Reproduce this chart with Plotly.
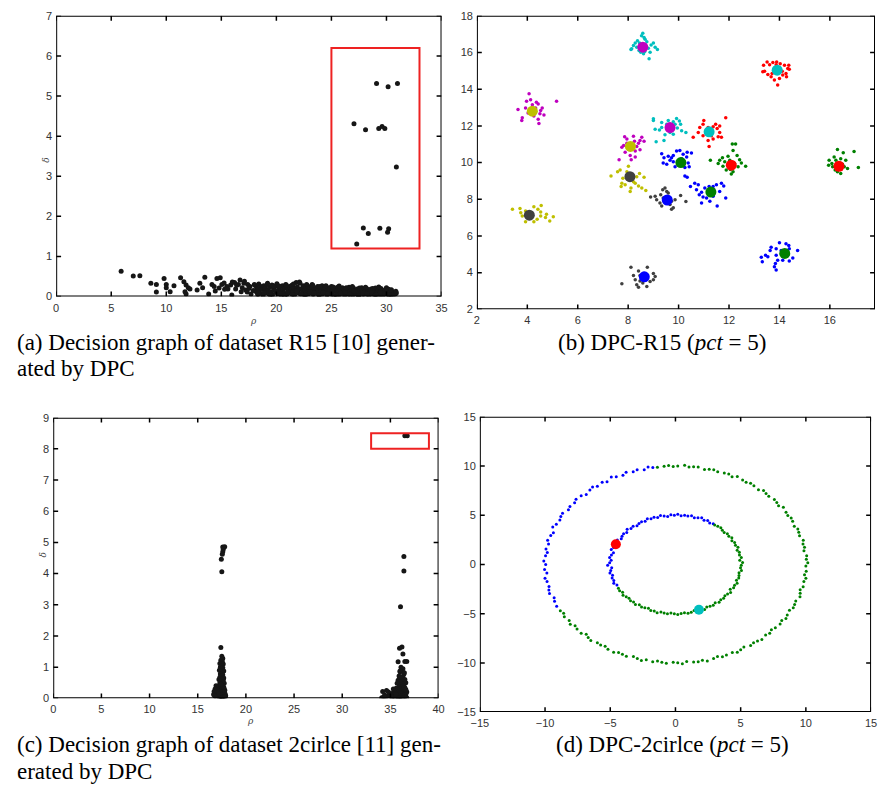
import numpy as np
import plotly.graph_objects as go

W, H = 881, 791

# ---------------- (a) decision graph of R15 ----------------
rho_a_peaks = [29.1, 30.15, 31.0, 27.05, 28.1, 29.3, 29.6, 29.85, 30.9, 27.9, 28.35, 29.4, 30.2, 30.1, 27.3]
delta_a_peaks = [5.31, 5.23, 5.31, 4.31, 4.16, 4.19, 4.24, 4.19, 3.23, 1.71, 1.57, 1.70, 1.69, 1.60, 1.31]

rho_a_sparse = [5.9, 7.0, 7.6, 8.6, 9.1, 9.1, 9.8, 10.0, 10.0, 10.35,
                10.7, 11.3, 11.6, 11.8, 12.0, 12.15, 11.7, 11.8, 12.8, 13.05,
                13.3, 13.5, 13.85, 14.15, 14.35, 14.45, 14.6, 14.9, 15.05, 15.25,
                15.5, 15.6, 15.85, 15.95, 16.2, 16.3, 16.55, 16.7, 16.9, 17.05,
                17.2, 17.35, 17.6, 17.7, 18.0, 18.3, 16.0, 16.4, 17.1, 17.5,
                17.9, 15.3, 14.8, 16.8, 17.4]
delta_a_sparse = [0.63, 0.51, 0.52, 0.33, 0.30, 0.11, 0.45, 0.30, 0.22, 0.12,
                  0.27, 0.47, 0.37, 0.29, 0.22, 0.19, 0.12, 0.06, 0.16, 0.33,
                  0.22, 0.48, 0.06, 0.30, 0.25, 0.14, 0.45, 0.47, 0.30, 0.34,
                  0.25, 0.19, 0.29, 0.04, 0.35, 0.19, 0.30, 0.41, 0.22, 0.33,
                  0.16, 0.11, 0.25, 0.06, 0.30, 0.20, 0.36, 0.28, 0.38, 0.2,
                  0.15, 0.18, 0.21, 0.12, 0.3]

rho_a_band = [18.05, 18.15, 18.2, 18.3, 18.4, 18.45, 18.55, 18.6, 18.7, 18.8, 18.85, 18.95, 19.0, 19.1, 19.2, 19.25, 19.35, 19.4, 19.5, 19.6,
              19.65, 19.75, 19.8, 19.9, 20.0, 20.05, 20.15, 20.2, 20.3, 20.4, 20.45, 20.55, 20.6, 20.7, 20.8, 20.85, 20.95, 21.0, 21.1, 21.2,
              21.25, 21.35, 21.4, 21.5, 21.6, 21.65, 21.75, 21.8, 21.9, 22.0, 22.05, 22.15, 22.2, 22.3, 22.4, 22.45, 22.55, 22.6, 22.7, 22.8,
              22.85, 22.95, 23.0, 23.1, 23.2, 23.25, 23.35, 23.4, 23.5, 23.6, 23.65, 23.75, 23.8, 23.9, 24.0, 24.05, 24.15, 24.2, 24.3, 24.4,
              24.45, 24.55, 24.6, 24.7, 24.8, 24.85, 24.95, 25.0, 25.1, 25.2, 25.25, 25.35, 25.4, 25.5, 25.6, 25.65, 25.75, 25.8, 25.9, 26.0,
              26.05, 26.15, 26.2, 26.3, 26.4, 26.45, 26.55, 26.6, 26.7, 26.8, 26.85, 26.95, 27.0, 27.1, 27.2, 27.25, 27.35, 27.4, 27.5, 27.6,
              27.65, 27.75, 27.8, 27.9, 28.0, 28.05, 28.15, 28.2, 28.3, 28.4, 28.45, 28.55, 28.6, 28.7, 28.8, 28.85, 28.95, 29.0, 29.1, 29.2,
              29.25, 29.35, 29.4, 29.5, 29.6, 29.65, 29.75, 29.8, 29.9, 30.0, 30.05, 30.15, 30.2, 30.3, 30.4, 30.5, 30.6, 30.7, 30.8, 30.9]
delta_a_band = [0.28, 0.12, 0.22, 0.05, 0.31, 0.16, 0.08, 0.25, 0.19, 0.03, 0.27, 0.14, 0.21, 0.09, 0.33, 0.17, 0.06, 0.24, 0.12, 0.29,
                0.04, 0.2, 0.15, 0.26, 0.1, 0.32, 0.07, 0.18, 0.23, 0.13, 0.02, 0.27, 0.16, 0.09, 0.22, 0.3, 0.05, 0.19, 0.12, 0.25,
                0.08, 0.17, 0.28, 0.11, 0.21, 0.04, 0.15, 0.35, 0.24, 0.09, 0.18, 0.33, 0.06, 0.2, 0.13, 0.27, 0.03, 0.16, 0.22, 0.1,
                0.26, 0.07, 0.19, 0.14, 0.24, 0.3, 0.05, 0.17, 0.11, 0.21, 0.08, 0.25, 0.15, 0.03, 0.2, 0.12, 0.27, 0.06, 0.18, 0.23,
                0.1, 0.16, 0.04, 0.22, 0.13, 0.19, 0.07, 0.25, 0.11, 0.17, 0.02, 0.21, 0.14, 0.08, 0.24, 0.16, 0.05, 0.19, 0.12, 0.22,
                0.09, 0.15, 0.03, 0.2, 0.11, 0.17, 0.06, 0.23, 0.13, 0.08, 0.18, 0.04, 0.21, 0.1, 0.15, 0.07, 0.19, 0.12, 0.02, 0.17,
                0.09, 0.22, 0.14, 0.05, 0.18, 0.11, 0.07, 0.2, 0.13, 0.03, 0.16, 0.09, 0.19, 0.06, 0.12, 0.15, 0.04, 0.21, 0.1, 0.08,
                0.17, 0.05, 0.13, 0.2, 0.09, 0.03, 0.15, 0.11, 0.07, 0.22, 0.14, 0.06, 0.18, 0.1, 0.04, 0.12, 0.08, 0.1, 0.06, 0.09]

rho_a_low = [18.35, 18.9, 19.45, 19.95, 20.35, 20.75, 21.05, 21.45, 21.85, 22.25, 22.65, 23.05, 23.45, 23.85, 24.25, 24.65,
             25.05, 25.45, 25.85, 26.25, 26.65, 27.05, 27.45, 27.85, 28.25, 28.65, 29.05, 29.45, 29.85, 30.25, 30.65,
             19.15, 19.7, 20.25, 20.9, 21.55, 22.1, 22.75, 23.3, 23.95, 24.5, 25.15, 25.7, 26.35, 26.9, 27.55, 28.1,
             28.75, 29.3, 29.95, 30.45, 30.85]
delta_a_low = [0.06, 0.1, 0.04, 0.13, 0.08, 0.02, 0.11, 0.05, 0.14, 0.07, 0.03, 0.12, 0.09, 0.04, 0.1, 0.06,
               0.13, 0.03, 0.08, 0.11, 0.05, 0.14, 0.02, 0.09, 0.06, 0.12, 0.04, 0.1, 0.07, 0.03, 0.05,
               0.3, 0.27, 0.26, 0.29, 0.31, 0.36, 0.3, 0.28, 0.25, 0.27, 0.24, 0.26, 0.22, 0.25, 0.21, 0.23,
               0.2, 0.24, 0.19, 0.17, 0.13]

# ---------------- (b) DPC clustering of R15 ----------------
cyan_x = [8.58, 8.53, 8.63, 8.37, 8.28, 8.14, 8.11, 8.34, 8.43, 8.50, 8.61, 8.66, 8.80, 8.91, 9.00, 9.16, 8.83, 8.67, 8.74, 8.87, 8.45, 8.21, 9.07,
          9.00, 9.00, 9.33, 9.59, 9.79, 9.92, 10.03, 10.08, 10.29, 10.12, 9.79, 9.66, 9.46, 9.42, 9.11, 9.24, 9.07, 9.33, 9.95, 9.86, 9.53]
cyan_y = [17.05, 16.91, 16.82, 16.64, 16.52, 16.20, 16.16, 16.29, 16.11, 16.02, 15.93, 16.05, 16.23, 16.41, 16.52, 16.16, 15.66, 16.73, 16.59, 16.02, 16.52, 16.38, 16.29,
          12.39, 12.30, 12.18, 12.30, 12.23, 12.41, 12.27, 12.09, 11.64, 11.73, 11.55, 11.64, 11.52, 11.20, 11.14, 11.77, 11.82, 11.91, 11.88, 12.09, 12.09]

red_x = [13.51, 13.37, 13.41, 13.34, 13.61, 13.74, 13.87, 14.03, 14.20, 14.33, 14.39, 14.26, 14.13, 14.00, 13.93, 13.80, 13.67, 13.71, 13.54, 14.28, 14.11, 13.89, 14.37,
         11.00, 10.97, 11.17, 11.37, 11.53, 11.63, 11.70, 11.57, 11.37, 11.21, 11.17, 10.97, 10.78, 10.58, 10.84, 11.87, 11.47, 11.63, 11.30]
red_y = [15.48, 15.30, 14.98, 14.95, 15.34, 15.45, 15.34, 15.39, 15.30, 15.13, 15.09, 14.86, 14.77, 14.59, 14.23, 14.50, 14.68, 14.86, 14.80, 14.68, 14.98, 15.48, 15.30,
         12.30, 12.09, 11.91, 11.95, 11.86, 11.64, 11.38, 11.41, 11.29, 10.88, 11.20, 11.46, 11.64, 11.38, 11.91, 12.45, 12.09, 12.00, 11.46]

magenta_x = [4.07, 4.13, 3.97, 4.36, 4.43, 4.59, 4.53, 3.63, 3.80, 3.78, 4.03, 4.26, 4.43, 4.46, 4.66, 5.16, 3.93, 4.33, 4.20, 4.50,
             7.86, 8.21, 7.95, 8.25, 8.47, 8.63, 8.54, 7.82, 7.75, 8.34, 8.47, 8.28, 8.08, 8.28, 8.12, 7.64, 7.88, 8.41, 7.95]
magenta_y = [13.75, 13.43, 13.34, 13.29, 13.20, 12.98, 12.84, 12.89, 12.45, 12.30, 12.71, 12.54, 12.36, 12.13, 12.59, 13.34, 12.98, 12.98, 13.16, 12.66,
             11.41, 11.43, 11.29, 11.16, 11.20, 11.16, 11.38, 10.93, 10.84, 10.88, 10.70, 10.63, 10.39, 10.30, 10.16, 10.16, 10.57, 11.05, 11.05]

blue_x = [9.33, 9.42, 9.59, 9.79, 9.92, 10.05, 10.18, 10.34, 10.51, 10.32, 10.38, 10.42, 10.25, 9.99, 9.79, 9.66, 9.53, 9.39, 9.86, 10.25, 10.34, 9.72, 10.12,
          10.47, 10.64, 10.78, 10.71, 10.82, 10.91, 10.97, 10.91, 11.11, 11.24, 11.37, 11.39, 11.50, 11.70, 11.79, 11.63, 11.87, 11.53, 11.37, 11.21, 11.04,
          14.00, 14.26, 14.37, 13.67, 13.63, 13.87, 14.07, 14.39, 14.72, 13.45, 13.28, 13.54, 13.87, 13.93, 14.33, 14.53, 14.39, 14.13, 13.32, 13.84, 13.87, 13.80]
blue_y = [10.48, 10.27, 10.34, 10.39, 10.63, 10.66, 10.45, 10.57, 10.52, 10.30, 9.98, 9.77, 9.73, 9.95, 10.04, 10.13, 9.91, 9.98, 9.77, 9.27, 9.20, 10.27, 10.21,
          8.70, 8.88, 8.79, 8.52, 8.25, 8.38, 8.13, 7.80, 8.07, 7.89, 8.16, 8.52, 8.79, 8.88, 8.73, 8.43, 8.07, 7.63, 8.70, 8.70, 8.61,
          5.63, 5.57, 5.48, 5.39, 5.21, 5.30, 5.21, 5.30, 5.21, 4.95, 4.84, 4.86, 4.95, 4.68, 4.95, 4.80, 4.63, 4.68, 4.59, 4.50, 4.14, 4.32]

green_x = [12.13, 12.26, 12.16, 11.96, 11.74, 11.63, 11.26, 11.57, 11.76, 11.89, 12.09, 12.16, 12.36, 12.42, 12.49, 12.66, 12.32, 12.03, 11.83, 12.22, 12.05,
           16.30, 16.53, 16.96, 16.17, 15.97, 16.08, 16.24, 16.43, 16.63, 16.57, 16.70, 17.13, 16.30, 16.43, 16.21, 16.11, 16.50, 15.95, 16.37]
green_y = [11.02, 11.02, 10.66, 10.34, 10.27, 10.13, 10.13, 9.95, 9.80, 9.59, 9.38, 9.50, 9.77, 10.16, 9.98, 9.80, 10.39, 10.13, 10.04, 9.95, 9.63,
           10.71, 10.54, 10.61, 10.30, 10.13, 9.95, 10.13, 10.21, 10.13, 9.77, 9.68, 9.73, 9.50, 9.41, 9.59, 9.77, 9.91, 9.86, 9.98]

yellow_x = [8.01, 7.68, 7.58, 7.32, 7.79, 7.75, 7.88, 7.72, 8.08, 8.11, 8.28, 8.41, 8.54, 8.70, 8.63, 8.34, 8.21, 7.95, 8.45,
            3.41, 3.71, 3.93, 4.26, 4.55, 4.42, 4.76, 5.03, 4.89, 4.72, 4.53, 4.39, 4.26, 3.93, 3.80, 4.07, 3.74, 4.20, 4.53]
yellow_y = [9.80, 9.59, 9.50, 9.27, 9.14, 8.88, 8.79, 8.70, 8.43, 8.61, 8.88, 8.73, 8.61, 8.48, 9.20, 9.23, 8.96, 9.50, 9.41,
            7.45, 7.50, 7.36, 7.59, 7.66, 7.45, 7.18, 7.05, 6.82, 7.00, 7.09, 6.91, 6.77, 6.77, 7.09, 7.27, 7.27, 7.09, 7.30]

grey_x = [9.37, 9.46, 9.53, 9.29, 9.07, 8.89, 9.13, 9.26, 9.33, 9.66, 9.79, 9.72, 9.86, 10.08, 10.29, 9.39, 9.59, 9.72,
          8.11, 8.76, 8.41, 8.61, 8.21, 8.28, 8.47, 8.74, 9.00, 9.07, 8.87, 9.00, 8.34, 8.41, 8.58, 8.74, 7.75, 8.67, 8.47]
grey_y = [8.52, 8.61, 8.43, 8.25, 8.16, 8.13, 7.98, 7.80, 7.63, 7.71, 7.54, 7.45, 7.98, 8.20, 7.88, 8.07, 8.34, 7.89,
          4.29, 4.29, 4.09, 3.96, 3.84, 3.61, 3.55, 3.79, 3.96, 3.79, 3.52, 3.61, 3.34, 3.20, 3.43, 3.25, 3.39, 3.70, 3.84]

center_x = [8.58, 13.91, 4.20, 9.66, 11.21, 8.09, 10.09, 12.09, 16.36, 8.07, 11.28, 9.55, 4.08, 14.21, 8.64]
center_y = [16.29, 15.04, 12.80, 11.91, 11.68, 10.88, 10.00, 9.86, 9.80, 9.23, 8.39, 7.96, 7.13, 5.05, 3.77]
center_col = ["magenta", "cyan", "yellow", "magenta", "cyan", "yellow", "green", "red",
              "red", "grey", "green", "blue", "grey", "green", "blue"]

# ---------------- (c) decision graph of 2circle ----------------
rho_c_left = [17.5, 17.6, 17.4, 17.55, 17.3, 17.65, 17.45, 17.35, 17.6, 17.5, 17.25, 17.7, 17.4, 17.55, 17.35, 17.6, 17.45, 17.3, 17.7, 17.5,
              17.2, 17.65, 17.4, 17.55, 17.3, 17.75, 17.45, 17.25, 17.6, 17.5, 17.15, 17.7, 17.35, 17.55, 17.2, 17.8, 17.4, 17.1, 17.65, 17.5,
              16.9, 17.75, 17.3, 17.55, 17.0, 17.85, 17.4, 16.8, 17.65, 17.2, 16.7, 17.9, 17.35, 17.5, 16.95, 17.75, 17.25, 16.65, 17.6, 17.45,
              17.05, 17.8, 17.3, 16.85, 17.7, 17.15, 17.55, 16.75, 17.4, 17.85,
              17.6, 17.8, 17.65, 17.6, 17.55, 17.45, 17.5, 17.4]
delta_c_left = [1.35, 1.28, 1.22, 1.18, 1.12, 1.1, 1.05, 1.0, 0.98, 0.95, 0.9, 0.88, 0.85, 0.8, 0.78, 0.75, 0.72, 0.68, 0.65, 0.62,
                0.6, 0.58, 0.55, 0.52, 0.5, 0.48, 0.45, 0.42, 0.4, 0.38, 0.36, 0.35, 0.33, 0.3, 0.28, 0.27, 0.25, 0.24, 0.22, 0.2,
                0.4, 0.18, 0.16, 0.15, 0.28, 0.14, 0.12, 0.3, 0.1, 0.09, 0.22, 0.08, 0.07, 0.06, 0.18, 0.05, 0.04, 0.12, 0.03, 0.02,
                0.1, 0.25, 0.01, 0.06, 0.35, 0.15, 0.0, 0.08, 0.45, 0.04,
                4.85, 4.86, 4.78, 4.70, 4.62, 4.46, 4.06, 1.63]

rho_c_right = [36.2, 36.0, 36.4, 35.9, 36.3, 36.1, 36.5, 35.8, 36.2, 36.0, 36.6, 35.7, 36.3, 36.1, 36.4, 35.9, 36.2, 36.5, 35.6, 36.0,
               36.3, 35.8, 36.6, 36.1, 35.5, 36.4, 35.9, 36.7, 35.4, 36.2, 36.0, 35.3, 36.5, 35.8, 35.2, 36.3, 36.1, 35.1, 36.6, 35.6,
               35.0, 36.4, 35.9, 34.9, 36.2, 35.7, 34.7, 36.0, 35.4, 34.5, 36.5, 35.2, 34.3, 35.8, 36.3, 34.1, 35.5, 36.7, 34.4, 35.0,
               34.8, 35.3, 36.1, 34.6, 35.6, 36.4, 35.1, 35.9, 36.6, 34.2,
               36.4, 36.4, 36.05, 35.95, 36.2, 36.3, 35.8, 36.7, 36.5, 36.1, 36.3, 36.0, 36.45, 36.5, 36.75]
delta_c_right = [0.9, 0.85, 0.78, 0.72, 0.7, 0.66, 0.6, 0.58, 0.55, 0.52, 0.5, 0.48, 0.45, 0.42, 0.4, 0.38, 0.36, 0.34, 0.32, 0.3,
                 0.28, 0.27, 0.26, 0.25, 0.24, 0.22, 0.21, 0.2, 0.2, 0.19, 0.18, 0.17, 0.16, 0.15, 0.15, 0.14, 0.13, 0.12, 0.12, 0.11,
                 0.1, 0.1, 0.09, 0.08, 0.08, 0.07, 0.07, 0.06, 0.06, 0.05, 0.05, 0.04, 0.04, 0.03, 0.03, 0.02, 0.02, 0.02, 0.1, 0.15,
                 0.2, 0.3, 0.01, 0.25, 0.12, 0.35, 0.05, 0.01, 0.28, 0.22,
                 4.55, 4.08, 2.94, 1.61, 1.65, 1.42, 1.17, 1.18, 1.18, 1.0, 0.95, 0.88, 0.82, 8.42, 8.42]

# ---------------- (d) DPC clustering of 2circle (polar readings: angle in deg, radius) ----------------
outer_blue_ang = [100, 102, 104, 107, 109, 112, 114, 117, 119, 122, 124, 127, 129, 131, 134, 136, 139, 141, 144, 146,
                  149, 151, 153, 156, 158, 161, 163, 166, 168, 171, 173, 175, 178, 180, 183, 185, 188, 190, 193, 195,
                  197, 200, 202, 205]
outer_blue_r = [10.0, 10.1, 9.9, 10.05, 9.95, 10.1, 9.9, 10.0, 10.15, 9.9, 10.05, 9.95, 10.1, 10.0, 9.85, 10.05, 10.1, 9.95, 10.0, 9.9,
                10.1, 10.05, 9.95, 10.0, 10.15, 9.9, 10.0, 10.1, 9.95, 10.05, 9.9, 10.0, 10.1, 9.95, 10.05, 9.9, 10.1, 10.0, 9.95, 10.05,
                10.1, 9.9, 10.0, 10.05]
outer_green_ang = [208, 210, 212, 215, 217, 219, 221, 224, 226, 228, 230, 233, 235, 237, 239, 242, 244, 246, 248, 251,
                   253, 255, 257, 260, 262, 264, 266, 269, 271, 273, 275, 278, 280, 282, 284, 287, 289, 291, 293, 296,
                   298, 300, 302, 305, 307, 309, 311, 314, 316, 318, 320, 323, 325, 327, 329, 332, 334, 336, 338, 341,
                   343, 345, 347, 350, 352, 354, 356, 359, 1, 3, 5, 8, 10, 12, 14, 17, 19, 21, 23, 26,
                   28, 30, 32, 35, 37, 39, 41, 44, 46, 48, 50, 53, 55, 57, 59, 62, 64, 66, 68, 71,
                   73, 75, 77, 80, 82, 84, 86, 89, 91, 93, 95, 98]
outer_green_r = [10.0, 9.9, 10.05, 9.95, 10.1, 9.9, 10.0, 10.05, 9.85, 10.0,
                 10.1, 9.95, 10.0, 9.9, 10.05, 10.1, 9.95, 10.0, 10.05, 9.9,
                 10.0, 10.1, 9.95, 10.05, 9.9, 10.0, 10.05, 9.95, 10.0, 10.1,
                 9.9, 10.0, 10.05, 9.95, 10.1, 10.0, 9.9, 10.05, 10.0, 9.95,
                 10.1, 10.0, 9.9, 10.05, 9.95, 10.0, 10.1, 9.95, 10.05, 9.9,
                 10.0, 10.05, 9.95, 10.1, 10.0, 9.9, 10.05, 10.0, 9.95, 10.1,
                 10.0, 9.9, 10.05, 10.0, 10.1, 9.95, 10.05, 10.0, 10.15, 10.05,
                 10.1, 9.95, 10.05, 10.0, 10.1, 9.95, 10.0, 10.05, 9.9, 10.0,
                 10.05, 9.95, 10.0, 10.1, 9.9, 10.0, 10.05, 9.95, 10.0, 10.1,
                 9.9, 10.0, 10.05, 9.95, 10.0, 10.1, 9.9, 10.05, 10.0, 9.95,
                 10.05, 10.0, 9.9, 10.05, 10.0, 9.95, 10.1, 10.0, 9.95, 10.05,
                 10.0, 9.95]
inner_blue_ang = [55, 58, 61, 64, 67, 70, 73, 76, 79, 82, 85, 88, 91, 94, 97, 100, 103, 106, 109, 112,
                  115, 118, 121, 124, 127, 130, 133, 136, 139, 142, 145, 148, 151, 154, 157, 160, 163, 166, 169, 172,
                  175, 178, 181, 184, 187, 190, 193, 196, 199, 202, 205]
inner_blue_r = [5.05, 4.95, 5.1, 5.0, 5.15, 5.05, 4.95, 5.1, 5.0, 5.05, 4.95, 5.1, 5.0, 5.05, 4.9, 5.0, 5.1, 4.95, 5.05, 5.0,
                5.1, 4.95, 5.05, 5.0, 4.9, 5.05, 5.0, 5.15, 4.95, 5.05, 5.0, 4.9, 5.1, 5.0, 4.95, 5.05, 5.15, 4.9, 5.0, 5.1,
                4.95, 5.05, 5.2, 4.9, 5.0, 5.1, 4.95, 5.05, 5.0, 5.1, 4.95]
inner_green_ang = [209, 212, 215, 218, 221, 224, 227, 230, 233, 236, 239, 242, 245, 248, 251, 254, 257, 260, 263, 266,
                   269, 272, 275, 278, 281, 284, 287, 290, 293, 296, 299, 302, 305, 308, 311, 314, 317, 320, 323, 326,
                   329, 332, 335, 338, 341, 344, 347, 350, 353, 356, 359, 2, 5, 8, 11, 14, 17, 20, 23, 26,
                   29, 32, 35, 38, 41, 44, 47, 50, 53]
inner_green_r = [5.0, 5.05, 4.95, 5.1, 5.0, 4.95, 5.05, 5.0, 5.1, 4.95, 5.05, 5.0, 4.9, 5.05, 5.0, 5.1, 4.95, 5.0, 5.05, 4.95,
                 5.0, 5.1, 5.0, 4.95, 5.05, 5.0, 4.9, 5.05, 5.0, 5.1, 4.95, 5.0, 5.05, 4.95, 5.1, 5.0, 5.05, 4.95, 5.0, 5.1,
                 4.9, 5.05, 5.0, 5.1, 4.95, 5.05, 5.0, 4.95, 5.1, 5.0, 5.05, 5.15, 4.95, 5.1, 5.0, 5.05, 4.95, 5.1, 5.0, 5.05,
                 4.95, 5.1, 5.0, 5.05, 4.95, 5.0, 5.1, 5.05, 5.0]
ring_center_x = [-4.57, 1.80]
ring_center_y = [2.05, -4.61]
ring_center_col = ["red", "cyan"]

# axis ranges and tick steps per panel
ranges = {
    "a": dict(x=[0, 35], y=[0, 7], dx=5, dy=1),
    "b": dict(x=[2, 17.79], y=[2, 18], dx=2, dy=2),
    "c": dict(x=[0, 40], y=[0, 9], dx=5, dy=1),
    "d": dict(x=[-15, 15], y=[-15, 15], dx=5, dy=5),
}

# MATLAB-like palette
PAL = {"blue": "#0000ff", "green": "#008000", "red": "#ff0000", "cyan": "#00bfbf",
       "magenta": "#bf00bf", "yellow": "#bfbf00", "grey": "#404040"}
DOT = "#161616"

# panel placement in page pixels: (left, right, top, bottom)
PANEL_PX = {"a": (48, 440, 10, 295), "b": (476, 881, 10, 308),
            "c": (45, 437, 418, 703), "d": (479, 877, 417, 717)}
AX = {"a": ("x", "y"), "b": ("x2", "y2"), "c": ("x3", "y3"), "d": ("x4", "y4")}


def polar(ang, r):
    a = np.deg2rad(np.asarray(ang, dtype=float))
    r = np.asarray(r, dtype=float)
    return r * np.cos(a), r * np.sin(a)


fig = go.Figure()

# (a)
for xs, ys in [(rho_a_band, delta_a_band), (rho_a_low, delta_a_low),
               (rho_a_sparse, delta_a_sparse), (rho_a_peaks, delta_a_peaks)]:
    fig.add_trace(go.Scatter(x=xs, y=ys, mode="markers", xaxis="x", yaxis="y",
                             marker=dict(size=5, color=DOT), hoverinfo="skip"))

# (b)
for name, xs, ys in [("cyan", cyan_x, cyan_y), ("red", red_x, red_y), ("magenta", magenta_x, magenta_y),
                     ("blue", blue_x, blue_y), ("green", green_x, green_y), ("yellow", yellow_x, yellow_y),
                     ("grey", grey_x, grey_y)]:
    fig.add_trace(go.Scatter(x=xs, y=ys, mode="markers", xaxis="x2", yaxis="y2",
                             marker=dict(size=3.5, color=PAL[name]), hoverinfo="skip"))
fig.add_trace(go.Scatter(x=center_x, y=center_y, mode="markers", xaxis="x2", yaxis="y2",
                         marker=dict(size=11, color=[PAL[c] for c in center_col]), hoverinfo="skip"))

# (c)
for xs, ys in [(rho_c_left, delta_c_left), (rho_c_right, delta_c_right)]:
    fig.add_trace(go.Scatter(x=xs, y=ys, mode="markers", xaxis="x3", yaxis="y3",
                             marker=dict(size=5, color=DOT), hoverinfo="skip"))

# (d)
for ang, rad, col in [(outer_blue_ang, outer_blue_r, "blue"), (outer_green_ang, outer_green_r, "green"),
                      (inner_blue_ang, inner_blue_r, "blue"), (inner_green_ang, inner_green_r, "green")]:
    px_, py_ = polar(ang, rad)
    fig.add_trace(go.Scatter(x=px_, y=py_, mode="markers", xaxis="x4", yaxis="y4",
                             marker=dict(size=3, color=PAL[col]), hoverinfo="skip"))
fig.add_trace(go.Scatter(x=ring_center_x, y=ring_center_y, mode="markers", xaxis="x4", yaxis="y4",
                         marker=dict(size=10, color=[PAL[c] for c in ring_center_col]), hoverinfo="skip"))


# boxed frame with inward ticks on all four sides
TICK_PX = 5
for key, (l, r, t, b) in PANEL_PX.items():
    rg = ranges[key]
    xa, ya = AX[key]
    (x0, x1), (y0, y1) = rg["x"], rg["y"]
    tx = TICK_PX * (x1 - x0) / (r - l)
    ty = TICK_PX * (y1 - y0) / (b - t)
    fig.add_shape(type="rect", xref=xa, yref=ya, x0=x0, x1=x1, y0=y0, y1=y1,
                  line=dict(color="black", width=2), layer="above")
    sx, sy = [], []
    for v in np.arange(x0, x1 + 1e-9, rg["dx"]):
        sx += [v, v, None, v, v, None]
        sy += [y0, y0 + ty, None, y1, y1 - ty, None]
    for v in np.arange(y0, y1 + 1e-9, rg["dy"]):
        sx += [x0, x0 + tx, None, x1, x1 - tx, None]
        sy += [v, v, None, v, v, None]
    fig.add_trace(go.Scatter(x=sx, y=sy, mode="lines", xaxis=xa, yaxis=ya,
                             line=dict(color="black", width=1.5), cliponaxis=False, hoverinfo="skip"))


def dom_x(a, b):
    return [a / W, b / W]


def dom_y(top, bottom):
    return [1 - bottom / H, 1 - top / H]


axis_style = dict(showline=False, ticks="", showgrid=False, zeroline=False, tickmode="linear",
                  tickfont=dict(family="Liberation Sans", size=11, color="#333333"))

layout_axes = {}
for key, (l, r, t, b) in PANEL_PX.items():
    rg = ranges[key]
    xa, ya = AX[key]
    xname = "xaxis" + xa[1:]
    yname = "yaxis" + ya[1:]
    layout_axes[xname] = dict(domain=dom_x(l, r), range=rg["x"], tick0=rg["x"][0], dtick=rg["dx"],
                              anchor=ya, ticklabelstandoff=3, **axis_style)
    layout_axes[yname] = dict(domain=dom_y(t, b), range=rg["y"], tick0=rg["y"][0], dtick=rg["dy"],
                              anchor=xa, ticklabelstandoff=3, **axis_style)

fig.update_layout(width=W, height=H, margin=dict(l=0, r=0, t=0, b=0),
                  paper_bgcolor="white", plot_bgcolor="white", showlegend=False, **layout_axes)

# highlighted cluster-centre candidates
fig.add_shape(type="rect", xref="x", yref="y", x0=25, x1=33, y0=1.2, y1=6.2,
              line=dict(color="#ee2222", width=2))
fig.add_shape(type="rect", xref="x3", yref="y3", x0=33, x1=39, y0=8.0, y1=8.5,
              line=dict(color="#ee2222", width=2))

# axis symbols
sym_font = dict(family="DejaVu Serif", size=9, color="#444444")
fig.add_annotation(x=243 / W, y=1 - 320 / H, xref="paper", yref="paper", text="<i>ρ</i>",
                   showarrow=False, font=sym_font)
fig.add_annotation(x=31 / W, y=1 - 152 / H, xref="paper", yref="paper", text="<i>δ</i>",
                   showarrow=False, font=sym_font, textangle=-90)
fig.add_annotation(x=240 / W, y=1 - 733 / H, xref="paper", yref="paper", text="<i>ρ</i>",
                   showarrow=False, font=sym_font)
fig.add_annotation(x=27 / W, y=1 - 562 / H, xref="paper", yref="paper", text="<i>δ</i>",
                   showarrow=False, font=sym_font, textangle=-90)

# sub-figure captions
cap_font = dict(family="Liberation Serif", size=23, color="black")
captions = [
    (6, 342, "(a) Decision graph of dataset R15 [10] gener-"),
    (6, 368, "ated by DPC"),
    (556, 342, "(b) DPC-R15 (<i>pct</i> = 5)"),
    (6, 750, "(c) Decision graph of dataset 2cirlce [11] gen-"),
    (6, 777, "erated by DPC"),
    (554, 750, "(d) DPC-2cirlce (<i>pct</i> = 5)"),
]
for cx, cy, txt in captions:
    fig.add_annotation(x=cx / W, y=1 - cy / H, xref="paper", yref="paper", text=txt,
                       showarrow=False, xanchor="left", yanchor="middle", font=cap_font)

fig.write_html("out.html")
